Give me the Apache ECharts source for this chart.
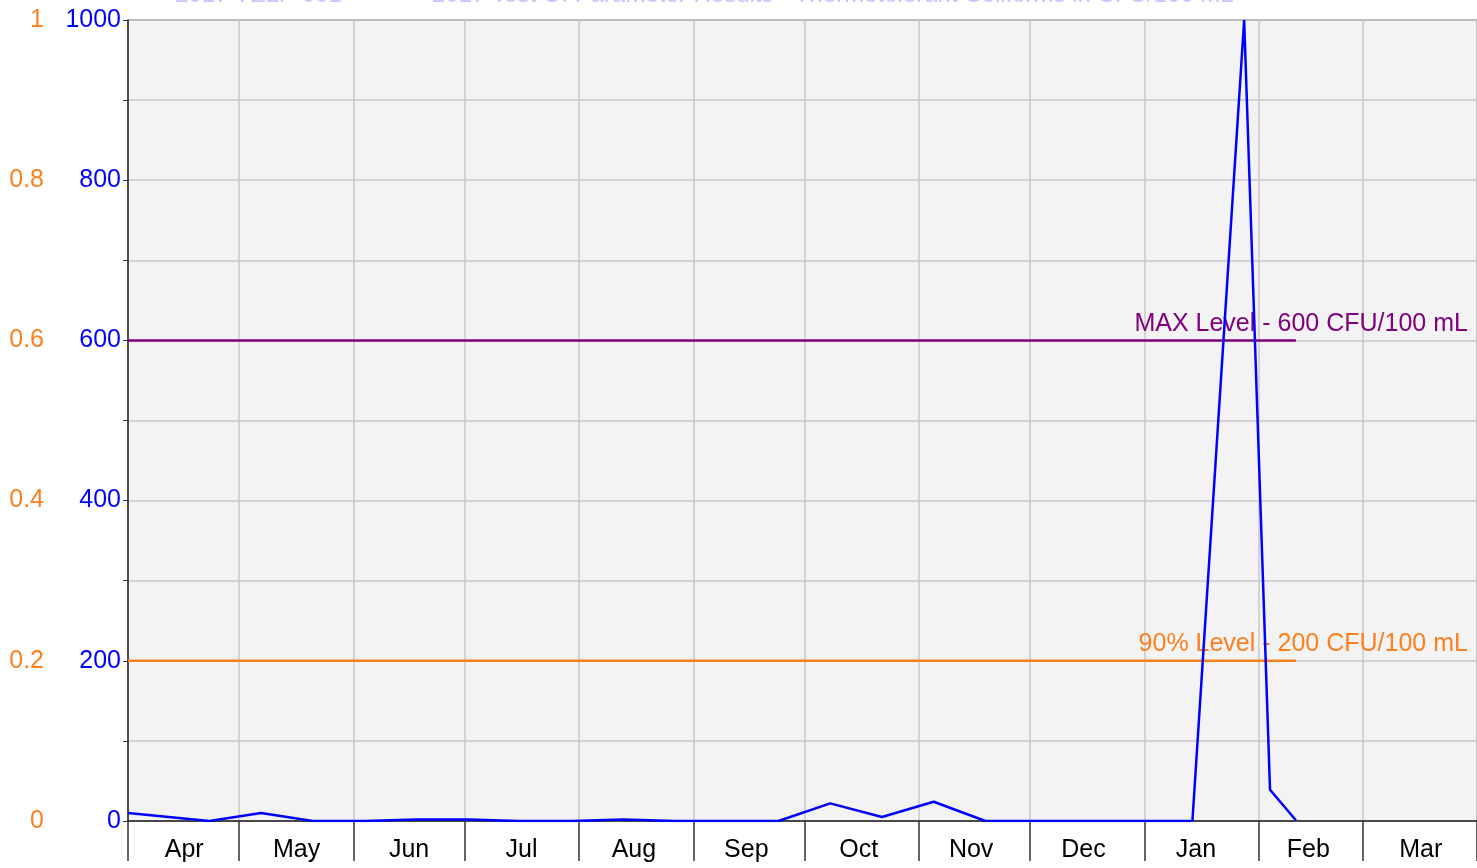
<!DOCTYPE html>
<html>
<head>
<meta charset="utf-8">
<script src="https://cdn.jsdelivr.net/npm/echarts@6/dist/echarts.min.js"></script>
<style>
    html, body { margin: 0; padding: 0; background: #fff; }
    #chart { width: 1477px; height: 868px; }
</style>
</head>
<body>
<div id="chart"></div>
<script>
    //月份标签
    var months = ['Apr', 'May', 'Jun', 'Jul', 'Aug', 'Sep', 'Oct', 'Nov', 'Dec', 'Jan', 'Feb', 'Mar'];
    //采样日期与数值
    var sampleDates = ['2017-04-01', '2017-04-23', '2017-05-07', '2017-05-21', '2017-06-04', '2017-06-18',
        '2017-07-02', '2017-07-16', '2017-07-30', '2017-08-13', '2017-08-27', '2017-09-10',
        '2017-09-24', '2017-10-08', '2017-10-22', '2017-11-05', '2017-11-19', '2017-12-03',
        '2017-12-17', '2017-12-31', '2018-01-14', '2018-01-28', '2018-02-04', '2018-02-11'];
    var sampleValues = [10, 0, 10, 0, 0, 2,
        2, 0, 0, 2, 0, 0,
        0, 22, 5, 24, 0, 0,
        0, 0, 0, 1000, 39, 1];
    //限值
    var maxLevel = 600, maxLevelText = 'MAX Level - 600 CFU/100 mL';
    var p90Level = 200, p90LevelText = '90% Level - 200 CFU/100 mL';
    var leftTicks = [0, 0.2, 0.4, 0.6, 0.8, 1];
    var axisStart = '2017-04-01', axisEnd = '2018-04-01';

    var font = 'Liberation Sans, Arial, sans-serif';
    var blue = '#0000ff', orange = '#ff7f1e', purple = '#800080';

    var lineData = sampleDates.map(function (d, i) { return [d, sampleValues[i]]; });
    var firstDate = sampleDates[0], lastDate = sampleDates[sampleDates.length - 1];

    function levelSeries(level, text, color) {
        return {
            type: 'line',
            xAxisIndex: 0,
            yAxisIndex: 0,
            symbol: 'none',
            silent: true,
            lineStyle: { color: color, width: 2.5 },
            data: [[firstDate, level], [lastDate, level]],
            endLabel: {
                show: true,
                formatter: text,
                color: color,
                fontSize: 25,
                fontFamily: font,
                align: 'right',
                verticalAlign: 'bottom',
                distance: 0,
                offset: [172, -4]
            },
            z: 3
        };
    }

    var chart = echarts.init(document.getElementById('chart'));
    chart.setOption({
        animation: false,
        graphic: [
            { type: 'text', left: 175, top: -17, style: { text: '2017 TELP 001', fill: '#c4c4ff', font: '24px ' + font } },
            { type: 'text', left: 432, top: -17, style: { text: '2017 Test Of Parameter Results - Thermotolerant Coliforms in CFU/100 mL', fill: '#c4c4ff', font: '24px ' + font } }
        ],
        grid: {
            left: 128, right: 0, top: 20, bottom: 47,
            show: true, backgroundColor: '#f3f3f3', borderColor: '#333', borderWidth: 1
        },
        xAxis: [
            {
                type: 'time',
                min: axisStart,
                max: axisEnd,
                splitNumber: 12,
                minInterval: 28 * 86400000,
                axisLine: { show: true, lineStyle: { color: '#222', width: 1.5 } },
                axisTick: { show: true, length: 40, lineStyle: { color: '#333', width: 1.5 } },
                axisLabel: { show: false },
                splitLine: { show: true, lineStyle: { color: '#c8c8c8', width: 1.5 } }
            },
            {
                type: 'category',
                data: months,
                boundaryGap: true,
                position: 'bottom',
                axisLine: { show: false },
                axisTick: { show: false },
                splitLine: { show: false },
                axisLabel: { color: '#000', fontSize: 25, fontFamily: font, margin: 17 }
            }
        ],
        yAxis: [
            {
                type: 'value',
                min: 0, max: 1000, interval: 200,
                position: 'left',
                axisLine: { show: true, lineStyle: { color: '#222', width: 1.5 } },
                axisTick: { show: true, length: 5, lineStyle: { color: '#333' } },
                minorTick: { show: true, splitNumber: 2, length: 5, lineStyle: { color: '#333' } },
                axisLabel: {
                    color: blue, fontSize: 25, fontFamily: font, margin: 7,
                    formatter: function (v) { return String(v); }
                },
                splitLine: { show: true, lineStyle: { color: '#c8c8c8', width: 1.5 } },
                minorSplitLine: { show: true, lineStyle: { color: '#c8c8c8', width: 1.5 } }
            },
            {
                type: 'value',
                min: leftTicks[0], max: leftTicks[leftTicks.length - 1], interval: 0.2,
                position: 'left',
                axisLine: { show: false },
                axisTick: { show: false },
                splitLine: { show: false },
                axisLabel: { color: orange, fontSize: 25, fontFamily: font, margin: 84 }
            }
        ],
        series: [
            levelSeries(maxLevel, maxLevelText, purple),
            levelSeries(p90Level, p90LevelText, orange),
            {
                type: 'line',
                xAxisIndex: 0,
                yAxisIndex: 0,
                symbol: 'none',
                lineStyle: { color: blue, width: 2.5 },
                data: lineData,
                z: 4
            }
        ]
    });
</script>
</body>
</html>
